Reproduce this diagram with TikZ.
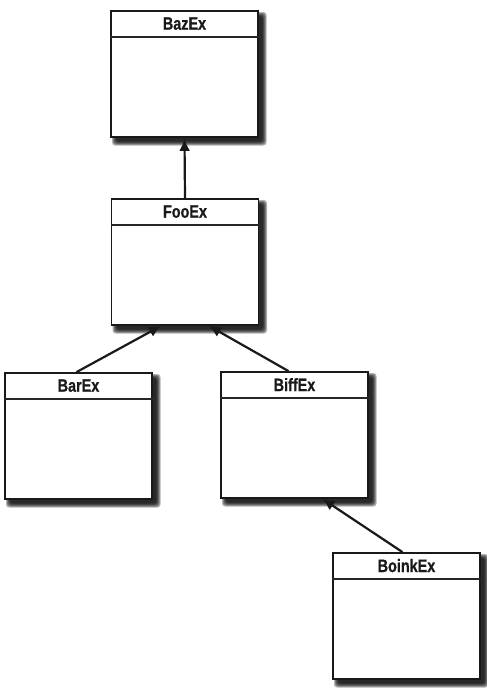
\documentclass[tikz,border=0pt]{standalone}
\usepackage{fontspec}
\newfontfamily\lblfont{Liberation Sans}[BoldFeatures={FakeBold=0.8}]
\usetikzlibrary{arrows.meta,calc}
\tikzset{
  umlbox/.style={draw=black!90, line width=1.8pt, fill=white, inner sep=0pt,
    minimum width=147pt, minimum height=126pt},
  shadowlayer/.style={fill=black, opacity=0.3, rounded corners=3pt},
  umlhead/.style={inner sep=0pt, text=black!90,
    font=\lblfont\bfseries\fontsize{18}{18}\selectfont},
  divider/.style={draw=black!85, line width=1.5pt},
  inherit/.style={draw=black!90, line width=2.2pt,
    -{Latex[length=12pt,width=11pt]}}
}
\newcommand{\umlclass}[4]{%
  \foreach \r in {0,1,2,3,4}{
    \fill[shadowlayer] ({#2-73.5+5-\r},{#3-63+5-\r}) rectangle ({#2+73.5+4.5+\r},{#3+63+4.5+\r});
  }
  \node[umlbox] (#1) at (#2,#3) {};
  \node[umlhead] (#1-name) at ($(#1.north)+(0,13.5)$) {\scalebox{0.8}[1]{#4}};
  \draw[divider] ($(#1.north west)+(0,27)$) coordinate (#1-dl) -- ($(#1.north east)+(0,27)$) coordinate (#1-dr);
}
\begin{document}
\begin{tikzpicture}[x=1pt,y=-1pt]
\useasboundingbox (0,0) rectangle (487,697);
\fill[white] (0,0) rectangle (487,697);
\umlclass{baz}{184.5}{74}{BazEx}
\umlclass{foo}{185}{262}{FooEx}
\umlclass{bar}{78.5}{436}{BarEx}
\umlclass{biff}{294.5}{435}{BiffEx}
\umlclass{boink}{406.5}{616}{BoinkEx}
\draw[inherit] (foo.north) -- ([yshift=-1pt]baz.south);
\draw[inherit] ([xshift=-2pt]bar.north) -- ([xshift=-24pt]foo.south);
\draw[inherit] ([xshift=-6pt]biff.north) -- ([xshift=24pt]foo.south);
\draw[inherit] ([xshift=-4pt]boink.north) -- ([xshift=28pt]biff.south);
\end{tikzpicture}
\end{document}
